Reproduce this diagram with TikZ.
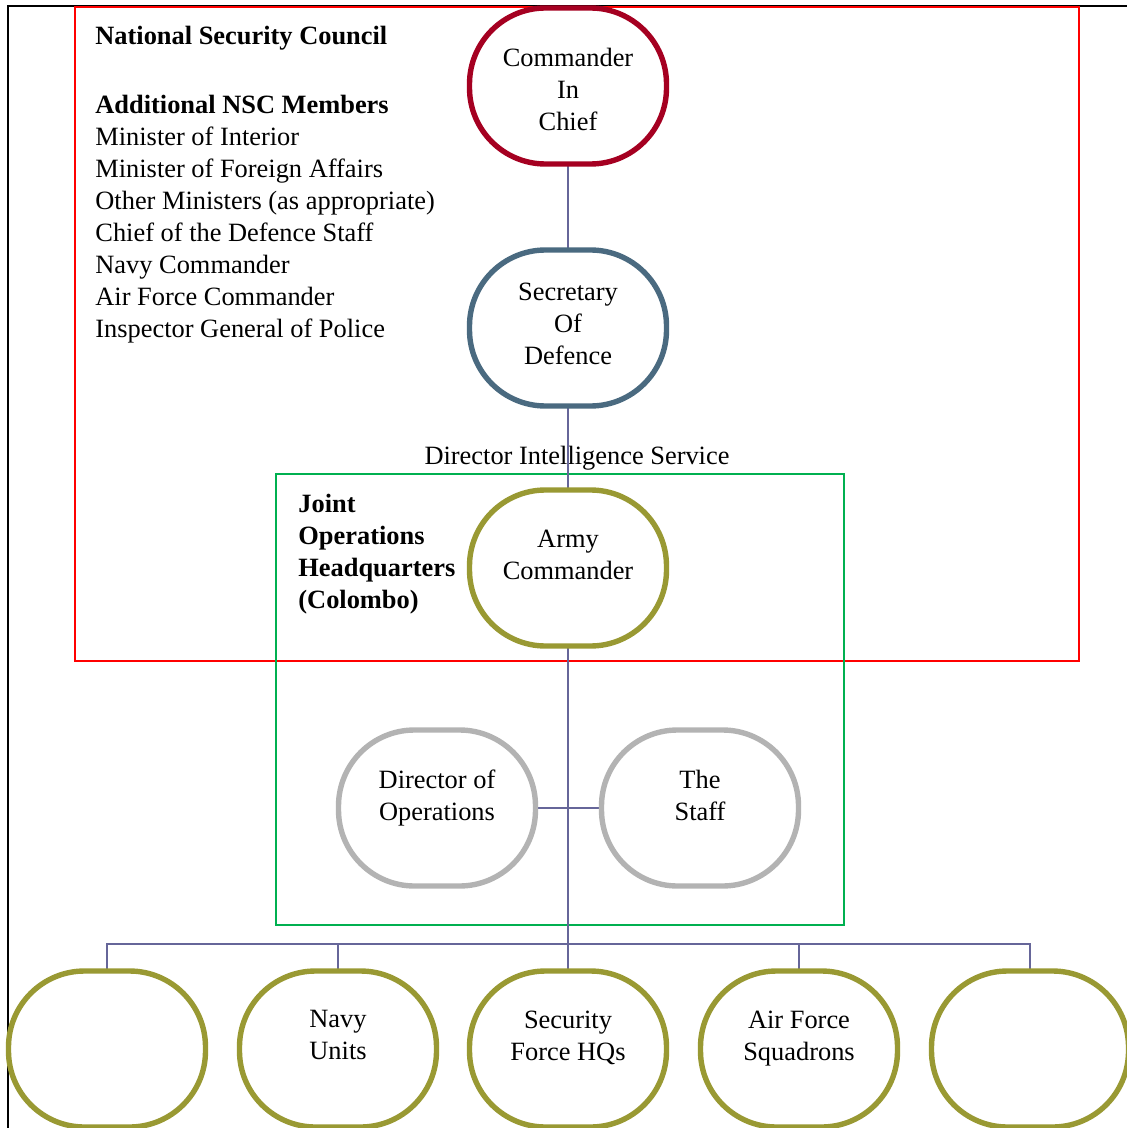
\documentclass[tikz,border=0pt]{standalone}
\usepackage{fontspec}
\setmainfont{Liberation Serif}
\usepackage{tikz}
\usetikzlibrary{positioning}
\definecolor{CicRed}{RGB}{165,0,33}
\definecolor{SecBlue}{RGB}{74,106,128}
\definecolor{ArmyOlive}{RGB}{153,153,51}
\definecolor{StaffGrey}{RGB}{179,179,179}
\definecolor{LinkBlue}{RGB}{102,102,153}
\definecolor{JohGreen}{RGB}{0,176,80}

\begin{document}
\begin{tikzpicture}[x=0.5pt,y=-0.5pt]
\tikzstyle{every node}=[font=\fontsize{13.2}{16}\selectfont];
\tikzstyle{unit}=[rectangle,rounded corners=38pt,minimum width=98.5pt,minimum height=78pt,inner sep=0pt,line width=2.7pt,fill=white];
\tikzstyle{txt}=[anchor=north,align=center,inner sep=0pt,yshift=-21pt];
\tikzstyle{link}=[draw=LinkBlue,line width=0.8pt];
\clip (0,0) rectangle (1127,1128);
% frames
\draw[line width=1pt] (8,1128) -- (8,6) -- (1127,6);
\draw[red,line width=1.3pt] (75,7) rectangle (1079,661);
\draw[JohGreen,line width=1.3pt] (276,474) rectangle (844,925);
% left texts
\node[anchor=north west,align=left,inner sep=0pt] (nsc) at (95,26)
  {\textbf{National Security Council}\\[18.5pt]\textbf{Additional NSC Members}\\
   Minister of Interior\\Minister of Foreign Affairs\\Other Ministers (as appropriate)\\
   Chief of the Defence Staff\\Navy Commander\\Air Force Commander\\Inspector General of Police};
\node[anchor=north west,align=left,inner sep=0pt,font=\fontsize{13.2}{16}\selectfont\bfseries] (joh) at (298,494)
  {Joint\\Operations\\Headquarters\\(Colombo)};
\node[anchor=base,inner sep=0pt] (dis) at (577,464) {Director Intelligence Service};
% connectors
\coordinate (bus) at (568,944);
\coordinate (cic-pos) at (568,86);
\draw[link] (cic-pos) -- (568,328);
\draw[link] (568,328) -- (568,568);
\draw[link,line width=1.1pt] (568,568) -- (bus);
\draw[link] (bus) -- (568,1049);
\draw[link] (437,808) -- (700,808);
\draw[link] (bus) -| (107,1049);
\draw[link] (bus) -| (338,1049);
\draw[link] (bus) -| (799,1049);
\draw[link] (bus) -| (1030,1049);
% boxes
\node[unit,draw=CicRed,label={[txt]north:Commander\\In\\Chief}] (cic) at (cic-pos) {};
\node[unit,draw=SecBlue,label={[txt,yshift=3.5pt]north:Secretary\\Of\\Defence}] (sec) at (568,328) {};
\node[unit,draw=ArmyOlive,label={[txt]north:Army\\Commander}] (army) at (568,568) {};
\node[unit,draw=StaffGrey,label={[txt]north:Director of\\Operations}] (dops) at (437,808) {};
\node[unit,draw=StaffGrey,label={[txt]north:The\\Staff}] (staff) at (700,808) {};
\node[unit,draw=ArmyOlive] (u1) at (107,1049) {};
\node[unit,draw=ArmyOlive,label={[txt]north:Navy\\Units}] (navy) at (338,1049) {};
\node[unit,draw=ArmyOlive,label={[txt]north:Security\\Force HQs}] (sfhq) at (568,1049) {};
\node[unit,draw=ArmyOlive,label={[txt]north:Air Force\\Squadrons}] (af) at (799,1049) {};
\node[unit,draw=ArmyOlive] (u5) at (1030,1049) {};
\end{tikzpicture}
\end{document}
